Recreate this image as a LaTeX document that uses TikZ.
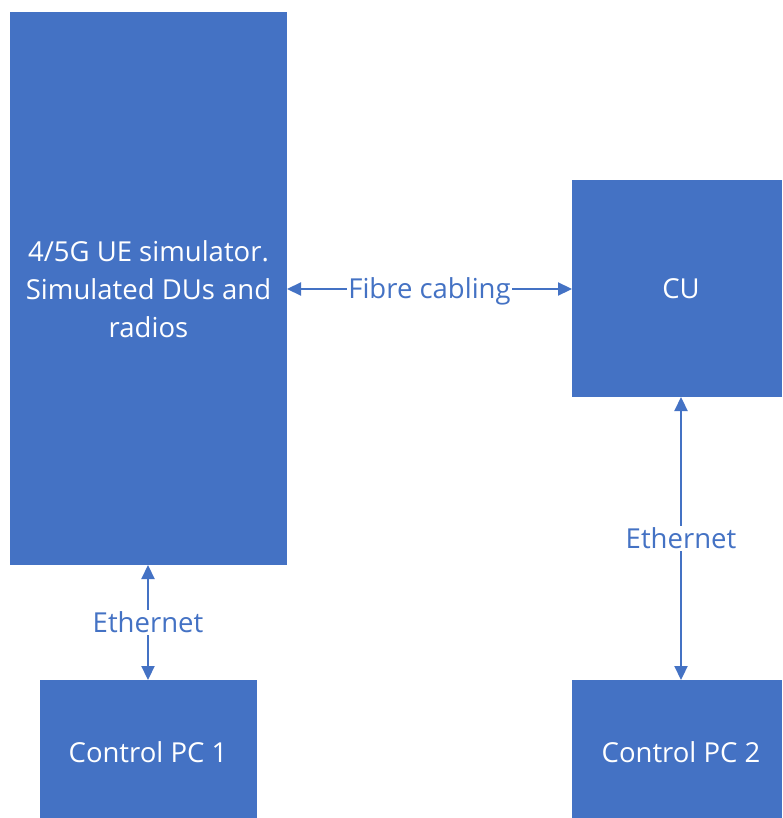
\documentclass[tikz,border=0pt]{standalone}
\usepackage{fontspec}
\setmainfont{Open Sans}
\usetikzlibrary{arrows.meta}
\definecolor{blu}{HTML}{4472C4}
\begin{document}
\begin{tikzpicture}[x=1pt,y=-1pt,
  blk/.style={fill=blu,draw=none,text=white,font=\fontsize{27.5}{38}\selectfont,align=center},
  lbl/.style={fill=white,text=blu,font=\fontsize{27.5}{38}\selectfont,inner xsep=1pt,inner ysep=2pt},
  conn/.style={draw=blu,line width=2.2pt,{Triangle[width=13pt,length=14pt]}-{Triangle[width=13pt,length=14pt]}}]
\useasboundingbox (0,0) rectangle (782,818);
\path[blk] (10,12) rectangle (287,565);
\node[blk,fill=none] (ue) at (148.5,289) {4/5G UE simulator.\\Simulated DUs and\\radios};
\coordinate (ueE) at (287,289);
\coordinate (ueS) at (148,565);
\path[blk] (572,180) rectangle (782,397);
\node[blk,fill=none] (cu) at (681,289) {CU};
\coordinate (cuW) at (572,289);
\coordinate (cuS) at (681,397);
\path[blk] (40,680) rectangle (257,818);
\node[blk,fill=none] (pc1) at (148,752) {Control PC 1};
\coordinate (pc1N) at (148,680);
\path[blk] (572,680) rectangle (782,818);
\node[blk,fill=none] (pc2) at (681,752) {Control PC 2};
\coordinate (pc2N) at (681,680);
\draw[conn] (ueE) -- node[lbl,yshift=-2pt] {Fibre cabling} (cuW);
\draw[conn] (ueS) -- node[lbl,pos=0.5] {Ethernet} (pc1N);
\draw[conn] (cuS) -- node[lbl,pos=0.5] {Ethernet} (pc2N);
\end{tikzpicture}
\end{document}
